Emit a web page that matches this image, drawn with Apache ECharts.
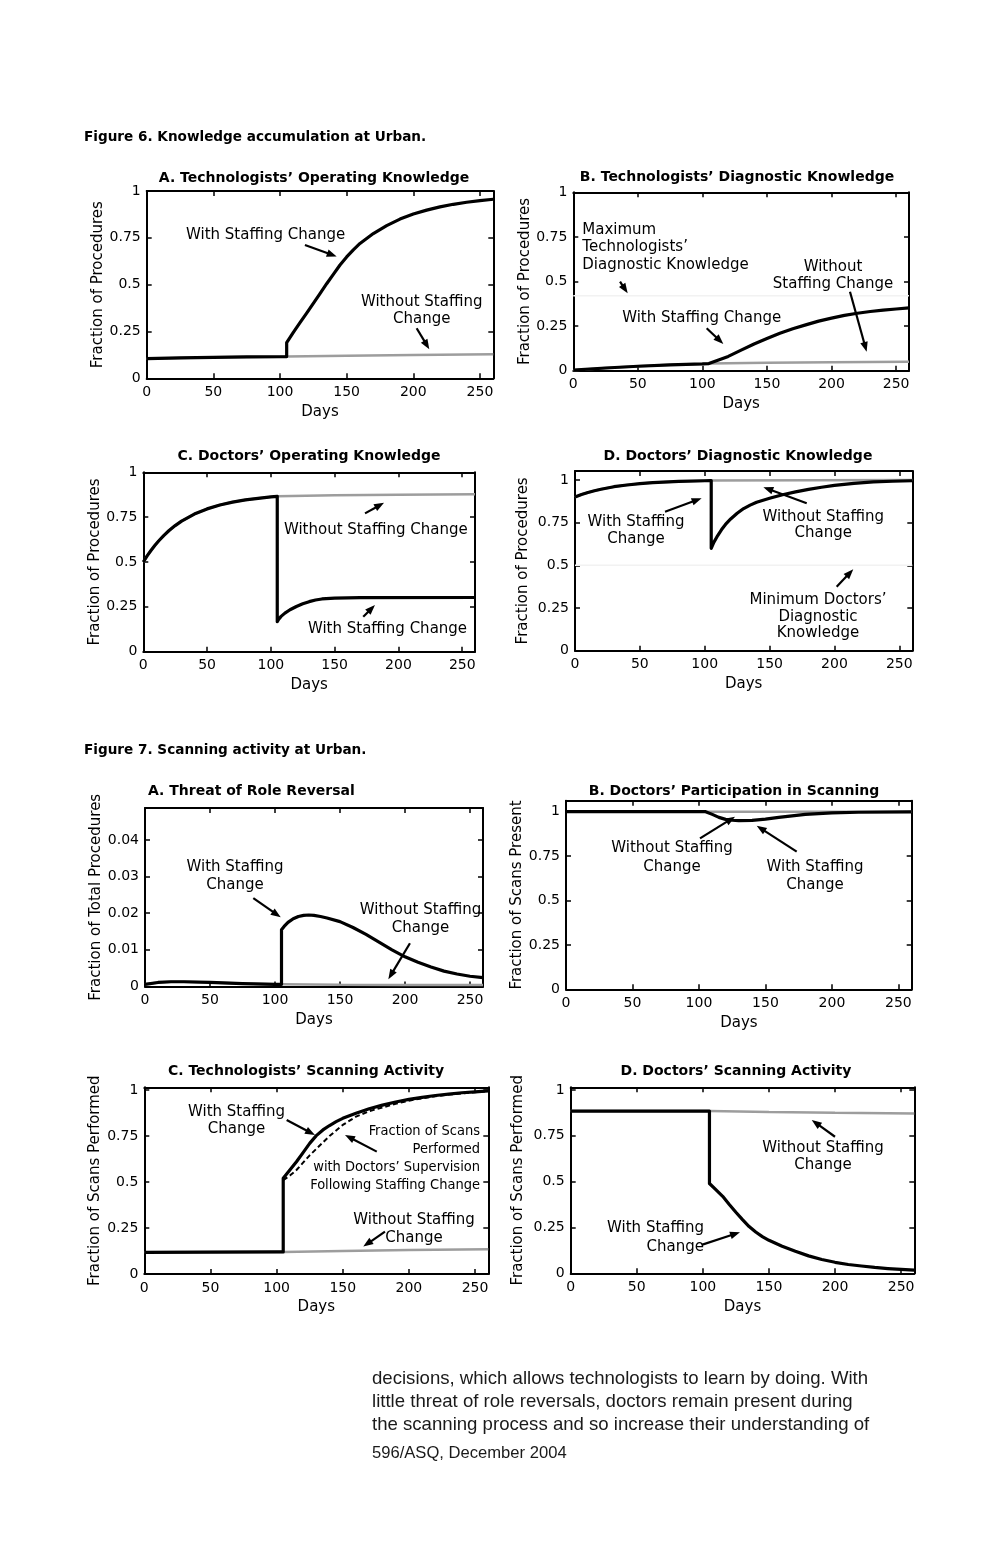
<!DOCTYPE html>
<html><head><meta charset="utf-8">
<script src="https://cdn.jsdelivr.net/npm/echarts@6/dist/echarts.min.js"></script>
<style>html,body{margin:0;padding:0;background:#fff}#c{width:1008px;height:1548px}</style>
</head><body><div id="c"></div>
<script>
// ---------------- DATA ----------------
// Figure 6A Technologists' operating knowledge
const days6A_with    = [0, 25, 50, 75, 100, 105, 105, 110, 115, 120, 125, 130, 135, 140, 145, 150, 155, 160, 170, 180, 190, 200, 210, 220, 230, 240, 250, 260];
const frac6A_with    = [0.105, 0.109, 0.112, 0.114, 0.115, 0.116, 0.19, 0.245, 0.297, 0.348, 0.40, 0.452, 0.505, 0.555, 0.605, 0.648, 0.686, 0.72, 0.773, 0.815, 0.85, 0.877, 0.898, 0.915, 0.929, 0.94, 0.949, 0.956];
const days6A_without = [0, 25, 50, 75, 100, 105, 150, 200, 260];
const frac6A_without = [0.105, 0.109, 0.112, 0.114, 0.115, 0.116, 0.12, 0.124, 0.128];
// Figure 6B Technologists' diagnostic knowledge
const days6B_with    = [0, 25, 50, 75, 100, 105, 120, 130, 140, 150, 160, 170, 180, 190, 200, 210, 220, 230, 240, 250, 260];
const frac6B_with    = [0.003, 0.015, 0.025, 0.033, 0.038, 0.04, 0.08, 0.115, 0.15, 0.18, 0.21, 0.235, 0.257, 0.278, 0.295, 0.31, 0.322, 0.332, 0.34, 0.346, 0.352];
const days6B_without = [0, 25, 50, 75, 100, 105, 150, 200, 260];
const frac6B_without = [0.003, 0.015, 0.025, 0.033, 0.038, 0.04, 0.044, 0.047, 0.05];
const days6B_max     = [0, 260];
const frac6B_max     = [0.42, 0.42];
// Figure 6C Doctors' operating knowledge
const days6C_with    = [0, 3, 6, 9, 12, 16, 20, 25, 30, 40, 50, 60, 70, 80, 90, 100, 105, 105, 106, 108, 111, 115, 120, 125, 130, 135, 140, 150, 170, 260];
const frac6C_with    = [0.50, 0.534, 0.564, 0.592, 0.617, 0.647, 0.674, 0.703, 0.728, 0.767, 0.796, 0.818, 0.834, 0.846, 0.855, 0.863, 0.866, 0.167, 0.18, 0.197, 0.215, 0.234, 0.252, 0.267, 0.279, 0.288, 0.294, 0.299, 0.301, 0.302];
const days6C_without = [0, 3, 6, 9, 12, 16, 20, 25, 30, 40, 50, 60, 70, 80, 90, 100, 105, 150, 200, 260];
const frac6C_without = [0.50, 0.534, 0.564, 0.592, 0.617, 0.647, 0.674, 0.703, 0.728, 0.767, 0.796, 0.818, 0.834, 0.846, 0.855, 0.863, 0.866, 0.872, 0.875, 0.877];
// Figure 6D Doctors' diagnostic knowledge
const days6D_with    = [0, 5, 10, 15, 20, 30, 40, 50, 60, 80, 100, 105, 105, 107, 110, 113, 116, 120, 125, 130, 135, 140, 145, 150, 160, 170, 180, 190, 200, 215, 230, 245, 260];
const frac6D_with    = [0.90, 0.915, 0.927, 0.937, 0.946, 0.961, 0.971, 0.979, 0.985, 0.992, 0.996, 0.997, 0.60, 0.635, 0.675, 0.71, 0.74, 0.772, 0.805, 0.833, 0.853, 0.87, 0.882, 0.893, 0.914, 0.931, 0.945, 0.958, 0.969, 0.981, 0.989, 0.993, 0.996];
const days6D_without = [0, 5, 10, 15, 20, 30, 40, 50, 60, 80, 100, 105, 260];
const frac6D_without = [0.90, 0.915, 0.927, 0.937, 0.946, 0.961, 0.971, 0.979, 0.985, 0.992, 0.996, 0.997, 1.0];
const days6D_min     = [0, 260];
const frac6D_min     = [0.5, 0.5];
// Figure 7A Threat of role reversal
const days7A_with    = [0, 10, 20, 30, 50, 75, 100, 105, 105, 107, 110, 114, 118, 122, 126, 130, 135, 140, 150, 160, 170, 180, 190, 200, 210, 220, 230, 240, 250, 260];
const frac7A_with    = [0.0006, 0.0011, 0.0013, 0.0013, 0.0011, 0.0008, 0.0006, 0.0006, 0.0155, 0.0164, 0.0175, 0.0185, 0.0191, 0.0194, 0.0195, 0.0194, 0.0191, 0.0187, 0.0177, 0.0161, 0.0142, 0.0121, 0.0100, 0.0081, 0.0066, 0.0053, 0.0042, 0.0034, 0.0028, 0.0024];
const days7A_without = [0, 10, 20, 30, 50, 75, 100, 105, 150, 200, 260];
const frac7A_without = [0.0006, 0.0011, 0.0013, 0.0013, 0.0011, 0.0008, 0.0006, 0.0006, 0.0005, 0.0004, 0.0004];
// Figure 7B Doctors' participation in scanning
const days7B_with    = [0, 50, 100, 105, 110, 115, 120, 125, 130, 140, 150, 160, 170, 180, 200, 220, 260];
const frac7B_with    = [1, 1, 1, 1, 0.985, 0.968, 0.957, 0.952, 0.95, 0.951, 0.958, 0.968, 0.977, 0.985, 0.993, 0.997, 0.999];
const days7B_without = [0, 260];
const frac7B_without = [1, 1];
// Figure 7C Technologists' scanning activity
const days7C_with    = [0, 50, 100, 105, 105, 110, 115, 120, 125, 130, 135, 140, 145, 150, 160, 170, 180, 190, 200, 210, 220, 230, 240, 250, 260];
const frac7C_with    = [0.118, 0.119, 0.12, 0.12, 0.52, 0.565, 0.61, 0.66, 0.71, 0.752, 0.783, 0.807, 0.828, 0.846, 0.874, 0.898, 0.918, 0.935, 0.949, 0.96, 0.97, 0.978, 0.985, 0.99, 0.995];
const days7C_superv  = [105, 110, 115, 120, 125, 130, 135, 140, 150, 160, 170, 180, 190, 200, 210, 220, 230, 240, 250, 260];
const frac7C_superv  = [0.51, 0.535, 0.565, 0.605, 0.645, 0.68, 0.715, 0.75, 0.81, 0.855, 0.885, 0.905, 0.925, 0.942, 0.955, 0.966, 0.975, 0.982, 0.988, 0.993];
const days7C_without = [0, 50, 100, 105, 150, 200, 260];
const frac7C_without = [0.118, 0.119, 0.12, 0.12, 0.125, 0.13, 0.134];
// Figure 7D Doctors' scanning activity
const days7D_with    = [0, 50, 100, 105, 105, 110, 115, 120, 125, 130, 135, 140, 145, 150, 160, 170, 180, 190, 200, 210, 220, 230, 240, 250, 260];
const frac7D_with    = [0.885, 0.885, 0.885, 0.885, 0.49, 0.455, 0.42, 0.375, 0.333, 0.293, 0.255, 0.225, 0.2, 0.18, 0.148, 0.12, 0.095, 0.075, 0.06, 0.048, 0.04, 0.032, 0.026, 0.021, 0.017];
const days7D_without = [0, 105, 150, 200, 260];
const frac7D_without = [0.885, 0.885, 0.88, 0.876, 0.872];

// annotation arrows, [from, to] in data units (day, fraction)
const arrows6A = [[[118.7, 0.712], [142.5, 0.65]], [[202.5, 0.267], [212, 0.155]]];
const arrows6B = [[[36.2, 0.499], [42.1, 0.434]], [[214.3, 0.443], [227.2, 0.106]], [[103.3, 0.238], [116.2, 0.15]]];
const arrows6C = [[[173.8, 0.771], [188.7, 0.83]], [[172.4, 0.195], [181.6, 0.26]]];
const arrows6D = [[[69.4, 0.814], [97.6, 0.893]], [[178.6, 0.864], [145.2, 0.958]], [[201.7, 0.375], [214.5, 0.477]]];
const arrows7A = [[[83.3, 0.0241], [104.4, 0.0189]], [[203.8, 0.0118], [187.2, 0.0020]]];
const arrows7B = [[[100.8, 0.85], [127.1, 0.972]], [[173.5, 0.775], [143.4, 0.921]]];
const arrows7C = [[[107.6, 0.837], [129, 0.755]], [[175.7, 0.665], [151.7, 0.755]], [[181.9, 0.23], [165.5, 0.149]]];
const arrows7D = [[[200, 0.745], [182.4, 0.836]], [[99.1, 0.155], [128.1, 0.224]]];

const xTicksStep = 50;
const yTicksStep = [0.25, 0.25, 0.25, 0.25, 0.01, 0.25, 0.25, 0.25];

// ---------------- LAYOUT ----------------
const SANS = "'DejaVu Sans', Verdana, sans-serif";
const zip = (xs, ys) => xs.map((x, i) => [x, ys[i]]);

const panels = [
  {L:146.7, T:191,    W:346.6, H:187.3, ymax:1,      ygap:41,   yname:'Fraction of Procedures',       title:'A. Technologists’ Operating Knowledge', tx:314, ty:178, ta:'center',
   without: zip(days6A_without, frac6A_without), with: zip(days6A_with, frac6A_with), arrows: arrows6A},
  {L:573.3, T:192.3,  W:335.7, H:178.4, ymax:1,      ygap:40,   yname:'Fraction of Procedures',       title:'B. Technologists’ Diagnostic Knowledge', tx:737, ty:177, ta:'center',
   without: zip(days6B_without, frac6B_without), with: zip(days6B_with, frac6B_with), faint: zip(days6B_max, frac6B_max), arrows: arrows6B},
  {L:143.3, T:472.3,  W:331.7, H:179.4, ymax:1,      ygap:37.5, yname:'Fraction of Procedures',       title:'C. Doctors’ Operating Knowledge', tx:309, ty:456, ta:'center',
   without: zip(days6C_without, frac6C_without), with: zip(days6C_with, frac6C_with), arrows: arrows6C},
  {L:575,   T:471,    W:337.3, H:179.7, ymax:1.053,  ygap:44,   yname:'Fraction of Procedures',       title:'D. Doctors’ Diagnostic Knowledge', tx:738, ty:456, ta:'center',
   without: zip(days6D_without, frac6D_without), with: zip(days6D_with, frac6D_with), faint: zip(days6D_min, frac6D_min), arrows: arrows6D},
  {L:145,   T:808,    W:338,   H:178.5, ymax:0.0487, ygap:39,   yname:'Fraction of Total Procedures', title:'A. Threat of Role Reversal', tx:148, ty:791, ta:'left',
   without: zip(days7A_without, frac7A_without), with: zip(days7A_with, frac7A_with), arrows: arrows7A},
  {L:566,   T:800.7,  W:345.7, H:188.6, ymax:1.062,  ygap:38.5, yname:'Fraction of Scans Present',    title:'B. Doctors’ Participation in Scanning', tx:734, ty:791, ta:'center',
   without: zip(days7B_without, frac7B_without), with: zip(days7B_with, frac7B_with), arrows: arrows7B},
  {L:144.3, T:1087.3, W:344,   H:186.7, ymax:1.0147, ygap:42,   yname:'Fraction of Scans Performed',  title:'C. Technologists’ Scanning Activity', tx:306, ty:1071, ta:'center',
   without: zip(days7C_without, frac7C_without), with: zip(days7C_with, frac7C_with), dashed: zip(days7C_superv, frac7C_superv), arrows: arrows7C},
  {L:570.7, T:1087.3, W:343.6, H:186,   ymax:1.0147, ygap:45,   yname:'Fraction of Scans Performed',  title:'D. Doctors’ Scanning Activity', tx:736, ty:1071, ta:'center',
   without: zip(days7D_without, frac7D_without), with: zip(days7D_with, frac7D_with), arrows: arrows7D}
];

// annotation texts (page layout)
const notes = [
  {x:186,   y:235,    a:'left',   t:'With Staffing Change'},
  {x:421.7, y:310.5,  a:'center', t:'Without Staffing\nChange', lh:17.6},
  {x:582.3, y:247.5,  a:'left',   t:'Maximum\nTechnologists’\nDiagnostic Knowledge', lh:17.5},
  {x:833,   y:275.7,  a:'center', t:'Without\nStaffing Change', lh:16.7},
  {x:701.7, y:318.3,  a:'center', t:'With Staffing Change'},
  {x:375.8, y:530,    a:'center', t:'Without Staffing Change'},
  {x:387.5, y:629.3,  a:'center', t:'With Staffing Change'},
  {x:636,   y:530.5,  a:'center', t:'With Staffing\nChange', lh:17.6},
  {x:823.3, y:525,    a:'center', t:'Without Staffing\nChange', lh:16.6},
  {x:818,   y:616.7,  a:'center', t:'Minimum Doctors’\nDiagnostic\nKnowledge', lh:16.7},
  {x:235,   y:876,    a:'center', t:'With Staffing\nChange', lh:18.3},
  {x:420.5, y:919,    a:'center', t:'Without Staffing\nChange', lh:17.7},
  {x:672,   y:857.5,  a:'center', t:'Without Staffing\nChange', lh:18.4},
  {x:815,   y:876,    a:'center', t:'With Staffing\nChange', lh:18.3},
  {x:236.5, y:1120.4, a:'center', t:'With Staffing\nChange', lh:17.3},
  {x:480,   y:1158.4, a:'right',  t:'Fraction of Scans\nPerformed\nwith Doctors’ Supervision\nFollowing Staffing Change', lh:17.8, font:"14.5px 'DejaVu Sans Condensed', 'DejaVu Sans', sans-serif"},
  {x:414,   y:1229,   a:'center', t:'Without Staffing\nChange', lh:17.7},
  {x:823,   y:1156.4, a:'center', t:'Without Staffing\nChange', lh:17.3},
  {x:704,   y:1237.5, a:'right',  t:'With Staffing\nChange', lh:18.4}
];

function tickFmt(step) {
  return function (v) {
    const k = v / step;
    if (Math.abs(k - Math.round(k)) > 1e-6) return '';
    return String(parseFloat(v.toFixed(4)));
  };
}

function renderArrow(params, api) {
  const p1 = api.coord([api.value(0), api.value(1)]);
  const p2 = api.coord([api.value(2), api.value(3)]);
  const dx = p2[0] - p1[0], dy = p2[1] - p1[1];
  const len = Math.sqrt(dx * dx + dy * dy) || 1;
  const ux = dx / len, uy = dy / len;
  const hl = 10, hw = 3.8;
  const b = [p2[0] - ux * hl, p2[1] - uy * hl];
  const l = [b[0] - uy * hw, b[1] + ux * hw];
  const r = [b[0] + uy * hw, b[1] - ux * hw];
  return {type:'group', children:[
    {type:'line', shape:{x1:p1[0], y1:p1[1], x2:b[0] + ux * 2, y2:b[1] + uy * 2}, style:{stroke:'#000', lineWidth:2.2}},
    {type:'polygon', shape:{points:[p2, l, r]}, style:{fill:'#000'}}
  ]};
}

const grid = [], xAxis = [], yAxis = [], series = [], graphic = [];
const tickStyle = {show:true, inside:true, length:5, lineStyle:{color:'#000', width:1.5}};
const lineStyleAxis = {show:true, onZero:false, lineStyle:{color:'#000', width:2}};

panels.forEach((p, i) => {
  grid.push({left:p.L, top:p.T, width:p.W, height:p.H, containLabel:false});
  const ystep = yTicksStep[i];
  xAxis.push({gridIndex:i, type:'value', min:0, max:260, interval:xTicksStep, position:'bottom',
    axisLine:lineStyleAxis, axisTick:tickStyle, splitLine:{show:false},
    axisLabel:{margin:7, fontSize:14, color:'#000', fontFamily:SANS, formatter:tickFmt(xTicksStep)},
    name:'Days', nameLocation:'middle', nameGap:26, nameTextStyle:{fontSize:15, color:'#000', fontFamily:SANS}});
  xAxis.push({gridIndex:i, type:'value', min:0, max:260, interval:xTicksStep, position:'top',
    axisLine:lineStyleAxis, axisTick:tickStyle, splitLine:{show:false}, axisLabel:{show:false}});
  yAxis.push({gridIndex:i, type:'value', min:0, max:p.ymax, interval:ystep, position:'left',
    axisLine:lineStyleAxis, axisTick:tickStyle, splitLine:{show:false},
    axisLabel:{margin:6, fontSize:14, color:'#000', fontFamily:SANS, formatter:tickFmt(ystep)},
    name:p.yname, nameLocation:'middle', nameGap:p.ygap, nameTextStyle:{fontSize:15, color:'#000', fontFamily:SANS}});
  yAxis.push({gridIndex:i, type:'value', min:0, max:p.ymax, interval:ystep, position:'right',
    axisLine:lineStyleAxis, axisTick:tickStyle, splitLine:{show:false}, axisLabel:{show:false}});

  const xi = 2 * i, yi = 2 * i;
  const base = {type:'line', xAxisIndex:xi, yAxisIndex:yi, showSymbol:false, symbol:'none', silent:true, animation:false};
  if (p.faint) series.push(Object.assign({}, base, {data:p.faint, z:1, lineStyle:{color:'#f2f2f2', width:1.5}}));
  series.push(Object.assign({}, base, {data:p.without, z:2, lineStyle:{color:'#9d9d9d', width:2.5}}));
  if (p.dashed) series.push(Object.assign({}, base, {data:p.dashed, z:3, lineStyle:{color:'#000', width:2, type:[5, 3]}}));
  series.push(Object.assign({}, base, {data:p.with, z:4, lineStyle:{color:'#000', width:3.2, join:'round'}}));
  series.push({type:'custom', xAxisIndex:xi, yAxisIndex:yi, silent:true, animation:false, z:6, clip:false,
    encode:{x:[0, 2], y:[1, 3]}, renderItem:renderArrow,
    data:p.arrows.map(a => [a[0][0], a[0][1], a[1][0], a[1][1]])});

  graphic.push({type:'text', x:p.tx, y:p.ty, z:10, style:{text:p.title, font:"bold 14px " + SANS, fill:'#000', align:p.ta, verticalAlign:'middle'}});
});

notes.forEach(n => {
  graphic.push({type:'text', x:n.x, y:n.y, z:10, style:{text:n.t, font:n.font || ("15px " + SANS), fill:'#000',
    align:n.a, verticalAlign:'middle', lineHeight:n.lh || 18}});
});

// figure captions
graphic.push({type:'text', x:84, y:137, style:{text:'Figure 6. Knowledge accumulation at Urban.', font:"bold 13.6px " + SANS, fill:'#000', align:'left', verticalAlign:'middle'}});
graphic.push({type:'text', x:84, y:750, style:{text:'Figure 7. Scanning activity at Urban.', font:"bold 13.6px " + SANS, fill:'#000', align:'left', verticalAlign:'middle'}});

// body text
const bodyLines = [
  'decisions, which allows technologists to learn by doing. With',
  'little threat of role reversals, doctors remain present during',
  'the scanning process and so increase their understanding of'
];
bodyLines.forEach((t, k) => {
  graphic.push({type:'text', x:372, y:1379 + k * 23, style:{text:t, font:"18.6px 'Liberation Sans', Arial, sans-serif", fill:'#1a1a1a', align:'left', verticalAlign:'middle'}});
});
graphic.push({type:'text', x:372, y:1453, style:{text:'596/ASQ, December 2004', font:"16.6px 'Liberation Sans', Arial, sans-serif", fill:'#1a1a1a', align:'left', verticalAlign:'middle'}});

const chart = echarts.init(document.getElementById('c'), null, {renderer:'canvas'});
chart.setOption({backgroundColor:'#fff', animation:false, grid, xAxis, yAxis, series, graphic});
</script></body></html>
